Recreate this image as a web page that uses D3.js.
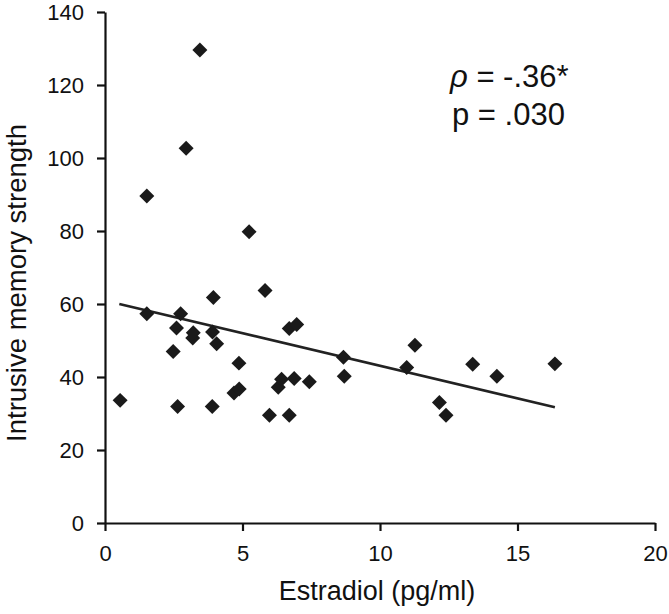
<!DOCTYPE html>
<html>
<head>
<meta charset="utf-8">
<script src="https://cdn.jsdelivr.net/npm/d3@7"></script>
<style>
  html, body { margin: 0; padding: 0; background: #fff; }
  svg { display: block; }
  text { font-family: "Liberation Sans", Arial, Helvetica, sans-serif; fill: #111; }
</style>
</head>
<body>
<svg id="chart" width="669" height="614"></svg>
<script>
// Data
const estradiol = [0.55, 1.52, 1.52, 2.48, 2.60, 2.64, 2.75, 2.95, 3.19, 3.21, 3.45, 3.90, 3.91, 3.94, 4.06, 4.69, 4.87, 4.88, 5.24, 5.82, 5.98, 6.30, 6.42, 6.70, 6.70, 6.88, 6.97, 7.43, 8.67, 8.70, 10.97, 11.27, 12.16, 12.40, 13.37, 14.25, 16.36];
const memoryStrength = [33.6, 89.6, 57.3, 47.0, 53.4, 31.9, 57.3, 102.7, 50.7, 52.1, 129.6, 31.9, 52.3, 61.8, 49.1, 35.6, 43.8, 36.7, 79.8, 63.7, 29.5, 37.2, 39.4, 29.5, 53.3, 39.6, 54.4, 38.7, 45.4, 40.2, 42.6, 48.7, 33.0, 29.5, 43.5, 40.2, 43.6];
const fitX = [0.52, 16.36];
const fitY = [60.0, 31.7];
const xTicks = [0, 5, 10, 15, 20];
const yTicks = [0, 20, 40, 60, 80, 100, 120, 140];
const xTitle = "Estradiol (pg/ml)";
const yTitle = "Intrusive memory strength";
const statRho = "= -.36*";
const statP = "p = .030";

const svg = d3.select("#chart");
const x = d3.scaleLinear().domain([0, 20]).range([105, 655]);
const y = d3.scaleLinear().domain([0, 140]).range([523, 12]);

// Axes
const yAxis = d3.axisLeft(y).tickValues(yTicks).tickSize(8).tickSizeOuter(0).tickPadding(13);
const gy = svg.append("g").attr("transform", `translate(${x(0)},0)`).call(yAxis);
gy.select(".domain").attr("stroke", "#111").attr("stroke-width", 2.2);
gy.selectAll(".tick line").attr("stroke", "#111").attr("stroke-width", 2.2);
gy.selectAll(".tick text").attr("font-size", 22).attr("fill", "#111")
  .attr("font-family", "Liberation Sans, Arial, sans-serif").attr("dy", "0.36em");

const xAxis = d3.axisBottom(x).tickValues(xTicks).tickSize(8).tickSizeOuter(0).tickPadding(14);
const gx = svg.append("g").attr("transform", `translate(0,${y(0)})`).call(xAxis);
gx.select(".domain").attr("stroke", "#111").attr("stroke-width", 2.2);
gx.selectAll(".tick line").attr("stroke", "#111").attr("stroke-width", 2.2);
gx.selectAll(".tick text").attr("font-size", 22).attr("fill", "#111")
  .attr("font-family", "Liberation Sans, Arial, sans-serif");

// Regression line
svg.append("line")
  .attr("x1", x(fitX[0])).attr("y1", y(fitY[0]))
  .attr("x2", x(fitX[1])).attr("y2", y(fitY[1]))
  .attr("stroke", "#222").attr("stroke-width", 2.6);

// Points (diamonds)
const diamond = d3.symbol().type(d3.symbolSquare).size(112);
svg.append("g").selectAll("path")
  .data(estradiol.map((d, i) => [d, memoryStrength[i]]))
  .join("path")
  .attr("d", diamond)
  .attr("transform", d => `translate(${x(d[0])},${y(d[1])}) rotate(45)`)
  .attr("fill", "#1a1a1a");

// Axis titles
svg.append("text")
  .attr("x", 377).attr("y", 600)
  .attr("text-anchor", "middle")
  .attr("font-size", 27)
  .text(xTitle);

svg.append("text")
  .attr("transform", "translate(26,283) rotate(-90)")
  .attr("text-anchor", "middle")
  .attr("font-size", 27.5)
  .text(yTitle);

// Statistics annotation
const t1 = svg.append("text").attr("x", 450).attr("y", 87).attr("font-size", 31);
t1.append("tspan").attr("font-style", "italic").text("ρ");
t1.append("tspan").text(" " + statRho);
svg.append("text").attr("x", 452).attr("y", 125).attr("font-size", 31).text(statP);
</script>
</body>
</html>
